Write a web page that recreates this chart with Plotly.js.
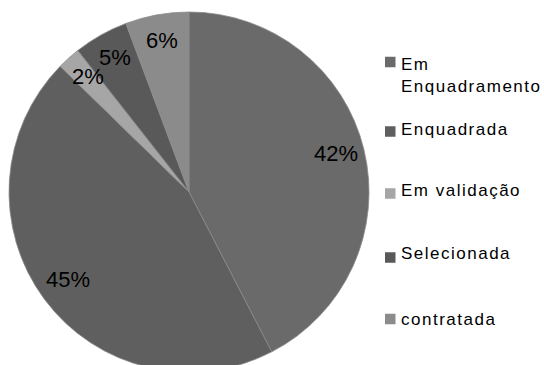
<!DOCTYPE html>
<html>
<head>
<meta charset="utf-8">
<script src="https://cdn.plot.ly/plotly-3.0.1.min.js"></script>
<style>
html,body{margin:0;padding:0;overflow:hidden;background:#fff;}
#chart{width:544px;height:380px;}
</style>
</head>
<body>
<div id="chart"></div>
<script>
// ---- data ----
const labels = ['Em Enquadramento', 'Enquadrada', 'Em validação', 'Selecionada', 'contratada'];
const values = [42.4, 44.9, 2.1, 4.9, 5.7];
const colors = ['#6a6a6a', '#5f5f5f', '#a6a6a6', '#595959', '#8b8b8b'];

// ---- layout constants ----
const W = 544, H = 380;
const pieCx = 189, pieCy = 192, pieR = 180;           // pixels
const domX = [(pieCx - pieR) / W, (pieCx + pieR) / W];
const domY = [(H - (pieCy + pieR)) / H, (H - (pieCy - pieR)) / H];
const labelFrac = 0.84;

const legendSquareCy = [62, 131.5, 193.5, 257.5, 319];
const legendTextCy = [64, 129, 190, 253.5, 319.5];
const legendSqX = 385, legendSq = 10.5, legendTextX = 399;
const legendLineH = 22.1;

const total = values.reduce((a, b) => a + b, 0);

const trace = {
  type: 'pie',
  labels: labels,
  values: values,
  sort: false,
  direction: 'clockwise',
  rotation: 0,
  textinfo: 'none',
  hoverinfo: 'label+percent',
  marker: { colors: colors, line: { color: '#8a8a8a', width: 0.8 } },
  domain: { x: domX, y: domY },
  showlegend: false
};

const annotations = [];
const shapes = [];
let cum = 0;
values.forEach((v, i) => {
  const mid = (cum + v / 2) / total * 2 * Math.PI;
  cum += v;
  const r = pieR * labelFrac;
  const px = pieCx + r * Math.sin(mid);
  const py = pieCy - r * Math.cos(mid);
  annotations.push({
    xref: 'paper', yref: 'paper',
    x: px / W, y: 1 - py / H,
    xanchor: 'center', yanchor: 'middle', yshift: 3,
    text: Math.round(v / total * 100) + '%',
    showarrow: false,
    font: { family: 'Liberation Sans, Arial, sans-serif', size: 22, color: '#000' }
  });
});

labels.forEach((lab, i) => {
  const txt = lab.length > 14 ? lab.replace(' ', '<br>') : lab;
  const nLines = txt.split('<br>').length;
  const cy = legendTextCy[i] + (nLines - 1) * legendLineH / 2;
  annotations.push({
    xref: 'paper', yref: 'paper',
    x: legendTextX / W, y: 1 - cy / H,
    xanchor: 'left', yanchor: 'middle', align: 'left',
    text: txt,
    showarrow: false,
    font: { family: 'Liberation Sans, Arial, sans-serif', size: 17, color: '#000' }
  });
  const sc = legendSquareCy[i];
  shapes.push({
    type: 'rect', xref: 'paper', yref: 'paper',
    x0: legendSqX / W, x1: (legendSqX + legendSq) / W,
    y0: 1 - (sc + legendSq / 2) / H, y1: 1 - (sc - legendSq / 2) / H,
    fillcolor: colors[i], line: { width: 0 }
  });
});

const layout = {
  width: W, height: H,
  margin: { l: 0, r: 0, t: 0, b: 0 },
  paper_bgcolor: '#fff',
  showlegend: false,
  annotations: annotations,
  shapes: shapes
};

Plotly.newPlot('chart', [trace], layout, { displayModeBar: false, staticPlot: true }).then(() => {
  const nData = values.length;
  document.querySelectorAll('.annotation').forEach(g => {
    const idx = parseInt(g.getAttribute('data-index'), 10);
    if (idx >= nData) {
      g.querySelectorAll('text').forEach(t => { t.style.letterSpacing = '1.5px'; });
    }
  });
});
</script>
</body>
</html>
